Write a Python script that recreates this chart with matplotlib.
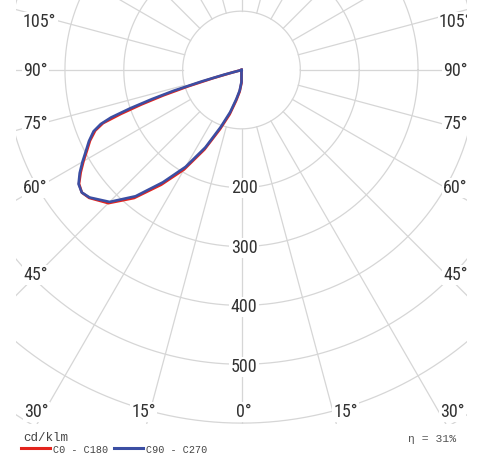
import numpy as np
import matplotlib
matplotlib.use("Agg")
import matplotlib.pyplot as plt

# ---------------- data (cd/klm) ----------------
gamma = [0, 5, 10, 15, 20, 25, 30, 35, 40, 45, 50, 52.5, 55, 57.5, 60, 62.5,
         65, 67.5, 69, 70, 71, 72, 73, 74, 75, 76, 80, 90]
# left half of the diagram (C180 / C270)
c0_c180 = [22, 37, 53, 78, 107, 149, 195, 238, 284, 320, 338, 342, 337, 324,
           310, 296, 284, 269, 252, 218, 180, 140, 95, 50, 15, 0, 0, 0]
c90_c270 = [20, 35, 50, 74, 103, 145, 190, 233, 280, 317, 337, 342, 338, 326,
            312, 298, 286, 272, 256, 236, 200, 160, 120, 70, 30, 0, 0, 0]
# right half (C0 / C90) – zero intensity
gamma_right = [5, 90]
right_vals = [0, 0]

ring_values = [100, 200, 300, 400, 500, 600, 700]
ring_labels = ["200", "300", "400", "500"]
spoke_angles = list(range(0, 360, 15))
angle_labels_left = ["105°", "90°", "75°", "60°", "45°"]
angle_labels_right = ["105°", "90°", "75°", "60°", "45°"]
angle_labels_bottom = ["30°", "15°", "0°", "15°", "30°"]
legend_names = ["C0 - C180", "C90 - C270"]
unit_label = "cd/klm"
eta_label = "η = 31%"

# ---------------- layout ----------------
W, H = 483, 457
CX, CY = 241.5, 70.0      # pixel position of the diagram centre
S = 0.5885                # pixels per cd/klm
AX_L, AX_R, AX_T, AX_B = 16, 467, 0, 424

RED = "#e3241d"
BLUE = "#3b4ea3"
GRID = "#d6d6d6"
TXT = "#333333"

fig = plt.figure(figsize=(W / 100, H / 100), dpi=100)
ax = fig.add_axes([AX_L / W, (H - AX_B) / H, (AX_R - AX_L) / W, (AX_B - AX_T) / H])
ax.set_xlim((AX_L - CX) / S, (AX_R - CX) / S)
ax.set_ylim((CY - AX_B) / S, (CY - AX_T) / S)
ax.set_aspect("equal")
ax.axis("off")


def px(x, y):
    return (x - CX) / S, (CY - y) / S


def to_xy(angles, vals, side):
    a = np.deg2rad(np.asarray(angles, float))
    r = np.asarray(vals, float)
    return side * r * np.sin(a), -r * np.cos(a)


# rings
t = np.linspace(0, 2 * np.pi, 721)
for rv in ring_values:
    ax.plot(rv * np.cos(t), rv * np.sin(t), color=GRID, lw=0.9, zorder=1)
# spokes from the inner ring outward
for a in spoke_angles:
    ar = np.deg2rad(a)
    ax.plot([100 * np.sin(ar), 900 * np.sin(ar)],
            [-100 * np.cos(ar), -900 * np.cos(ar)], color=GRID, lw=0.9, zorder=1)

# curves
fam = ["Liberation Sans Narrow", "DejaVu Sans Condensed", "Roboto Condensed", "DejaVu Sans"]
for vals, col in [(c0_c180, RED), (c90_c270, BLUE)]:
    xr, yr = to_xy(gamma_right[::-1], right_vals[::-1], 1)
    xl, yl = to_xy(gamma, vals, -1)
    xs = np.concatenate([xr, xl])
    ys = np.concatenate([yr, yl])
    ax.plot(xs, ys, color=col, lw=1.9, zorder=5, solid_joinstyle="round")

box = dict(facecolor="white", edgecolor="none", pad=1.0)
tkw = dict(fontsize=13, color=TXT, family=fam, va="baseline", bbox=box, zorder=3)

left_y = [27, 76, 129, 193, 280]
for lab, yb in zip(angle_labels_left, left_y):
    ax.text(*px(23, yb), lab, ha="left", **tkw)
right_x = [439, 443, 443, 443, 443]
for lab, xb, yb in zip(angle_labels_right, right_x, left_y):
    ax.text(*px(xb, yb), lab, ha="left", clip_on=True, **tkw)
bottom_x = [36.5, 143.5, 244, 345.5, 452.5]
for lab, xb in zip(angle_labels_bottom, bottom_x):
    ax.text(*px(xb, 417), lab, ha="center", **tkw)
ring_y = [193, 253, 312, 372]
for lab, yb in zip(ring_labels, ring_y):
    ax.text(*px(244, yb), lab, ha="center", **tkw)

# legend / footer
mono = ["Liberation Mono", "DejaVu Sans Mono"]
fig.text(23 / W, 1 - 441 / H, unit_label, family=mono, fontsize=9, color="#444444",
         ha="left", va="baseline")
fig.add_artist(plt.Line2D([21 / W, 50 / W], [1 - 448 / H] * 2, color=RED, lw=2.2))
fig.add_artist(plt.Line2D([114 / W, 143 / W], [1 - 448 / H] * 2, color=BLUE, lw=2.2))
fig.text(53 / W, 1 - 453 / H, legend_names[0], family=mono, fontsize=7.3, color="#444444",
         ha="left", va="baseline")
fig.text(146 / W, 1 - 453 / H, legend_names[1], family=mono, fontsize=7.3, color="#444444",
         ha="left", va="baseline")
fig.text(456 / W, 1 - 442 / H, eta_label, family=mono, fontsize=8.2, color="#555555",
         ha="right", va="baseline")

fig.savefig("out.png", dpi=100)
